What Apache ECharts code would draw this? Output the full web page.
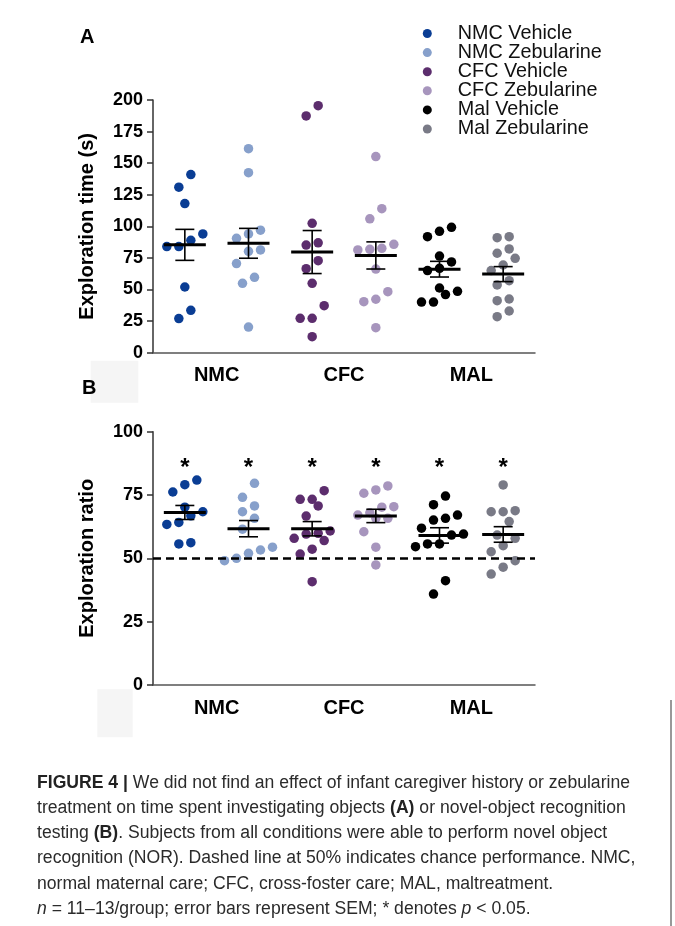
<!DOCTYPE html>
<html>
<head>
<meta charset="utf-8">
<script src="https://cdn.jsdelivr.net/npm/echarts@6/dist/echarts.min.js"></script>
<style>
  html, body { margin: 0; padding: 0; background: #fff; }
  #chart { width: 675px; height: 926px; }
</style>
</head>
<body>
<div id="chart"></div>
<script>
// groups, in plotting order
const groupNames = ['NMC Vehicle', 'NMC Zebularine', 'CFC Vehicle', 'CFC Zebularine', 'Mal Vehicle', 'Mal Zebularine'];
const groupColors = ['#0a3d94', '#87a0cb', '#5c2d6d', '#a795bd', '#000000', '#797a86'];
const careLabels = ['NMC', 'CFC', 'MAL'];

// panel A: exploration time (s)
const timeNmcVeh = [141, 131, 118, 94, 89, 84, 84, 52, 33.5, 27];
const timeNmcZeb = [161.5, 142.5, 97, 94, 90.5, 81.3, 80.2, 70.5, 59.7, 54.9, 20.3];
const timeCfcVeh = [195.5, 187.4, 102.4, 87, 85.2, 72.8, 66.5, 54.9, 37.2, 27.2, 27.2, 12.7];
const timeCfcZeb = [155.2, 114, 106, 85.8, 82.6, 81.8, 81.3, 66.2, 48.3, 42.3, 40.4, 19.8];
const timeMalVeh = [99.2, 96.1, 91.8, 76.5, 71.8, 66.8, 65, 51.2, 48.6, 46, 40.1, 40.1];
const timeMalZeb = [91.8, 91, 82.1, 78.7, 74.7, 69.4, 65, 57, 53.6, 42.5, 41.2, 33, 28.5];

// panel B: exploration ratio
const ratioNmcVeh = [80.9, 79.1, 76.2, 70.2, 68.4, 66.8, 64.2, 63.4, 56.2, 55.7];
const ratioNmcZeb = [79.6, 74.1, 70.7, 68.4, 65.8, 61.5, 54.4, 53.3, 52, 50, 49.1];
const ratioCfcVeh = [76.7, 73.3, 73.3, 70.7, 66.7, 60.8, 59.9, 59.6, 57.9, 57, 53.6, 51.7, 40.8];
const ratioCfcZeb = [78.6, 77, 75.7, 70.4, 70.2, 68, 67.1, 65.8, 65.8, 60.5, 54.4, 47.4];
const ratioMalVeh = [74.6, 71.2, 67.1, 65.8, 65.1, 61.9, 59.6, 59.2, 55.7, 55.7, 54.6, 41.2, 35.9];
const ratioMalZeb = [79, 68.8, 68.4, 68.4, 64.5, 59.2, 57.9, 55, 52.6, 49.1, 46.5, 43.8];

const timeGroups = [timeNmcVeh, timeNmcZeb, timeCfcVeh, timeCfcZeb, timeMalVeh, timeMalZeb];
const ratioGroups = [ratioNmcVeh, ratioNmcZeb, ratioCfcVeh, ratioCfcZeb, ratioMalVeh, ratioMalZeb];

// axes
const timeMax = 200, ratioMax = 100, tickStep = 25;
const chanceLevel = 50;
const significant = [true, true, true, true, true, true];
const starLevel = 85.5;

const captionLines = [
  '{b|FIGURE 4 |} We did not find an effect of infant caregiver history or zebularine',
  'treatment on time spent investigating objects {b|(A)} or novel-object recognition',
  'testing {b|(B)}. Subjects from all conditions were able to perform novel object',
  'recognition (NOR). Dashed line at 50% indicates chance performance. NMC,',
  'normal maternal care; CFC, cross-foster care; MAL, maltreatment.',
  '{i|n} = 11\u201313/group; error bars represent SEM; * denotes {i|p} < 0.05.'
];

const FONT = '"Liberation Sans", Arial, Helvetica, sans-serif';
const W = 675, H = 926;
const gridA = { left: 153, top: 100, width: 382, height: 252.7 };
const gridB = { left: 153, top: 431.7, width: 382, height: 253.3 };
const DOT = 9.5, DOT_GAP = 12, ROW_PX = 14;

function mean(a) { return a.reduce((s, v) => s + v, 0) / a.length; }
function sem(a) {
  const m = mean(a);
  const sd = Math.sqrt(a.reduce((s, v) => s + (v - m) * (v - m), 0) / (a.length - 1));
  return sd / Math.sqrt(a.length);
}

// prism-like scatter: values close together share a row and spread sideways
function swarm(g, values, pxPerUnit) {
  const sorted = values.slice().sort((a, b) => a - b);
  const out = [];
  let k = 0;
  while (k < sorted.length) {
    let j = k + 1;
    while (j < sorted.length && (sorted[j] - sorted[k]) * pxPerUnit < ROW_PX) j++;
    const row = sorted.slice(k, j);
    row.forEach((v, n) => {
      out.push({ value: [g, v], symbolOffset: [(n - (row.length - 1) / 2) * DOT_GAP, 0] });
    });
    k = j;
  }
  return out;
}

function meanSemRender(params, api) {
  const x = api.value(0), m = api.value(1), s = api.value(2);
  const c = api.coord([x, m]);
  const hi = api.coord([x, m + s]);
  const lo = api.coord([x, m - s]);
  const line = (x1, y1, x2, y2, w) => ({
    type: 'line', shape: { x1, y1, x2, y2 }, style: { stroke: '#000', lineWidth: w }
  });
  return {
    type: 'group',
    children: [
      line(c[0], hi[1], c[0], lo[1], 1.6),
      line(c[0] - 9.5, hi[1], c[0] + 9.5, hi[1], 1.6),
      line(c[0] - 9.5, lo[1], c[0] + 9.5, lo[1], 1.6),
      line(c[0] - 21, c[1], c[0] + 21, c[1], 3)
    ]
  };
}

function yAxis(grid, max, name) {
  return {
    gridIndex: grid, type: 'value', min: 0, max: max, interval: tickStep,
    name: name, nameLocation: 'middle', nameGap: 56,
    nameTextStyle: { fontFamily: FONT, fontSize: 20, fontWeight: 'bold', color: '#000' },
    axisLine: { show: true, lineStyle: { color: '#333', width: 1.5 } },
    axisTick: { show: true, length: 6, lineStyle: { color: '#333', width: 1.5 } },
    axisLabel: { fontFamily: FONT, fontSize: 18, fontWeight: 'bold', color: '#000', margin: 10 },
    splitLine: { show: false }
  };
}

function xAxes(grid) {
  return [
    {
      gridIndex: grid, type: 'category', data: groupNames, position: 'bottom',
      axisLine: { show: true, lineStyle: { color: '#555', width: 1.5 } },
      axisTick: { show: false }, axisLabel: { show: false }, splitLine: { show: false }
    },
    {
      gridIndex: grid, type: 'category', data: careLabels, position: 'bottom',
      axisLine: { show: false }, axisTick: { show: false }, splitLine: { show: false },
      axisLabel: { fontFamily: FONT, fontSize: 20, fontWeight: 'bold', color: '#000', margin: 13 }
    }
  ];
}

function panelSeries(panel, groups, pxPerUnit) {
  const list = groups.map((vals, g) => ({
    type: 'scatter', name: groupNames[g], xAxisIndex: panel * 2, yAxisIndex: panel,
    data: swarm(g, vals, pxPerUnit), symbol: 'circle', symbolSize: DOT,
    itemStyle: { color: groupColors[g], opacity: 1 }, silent: true, z: 2
  }));
  list.push({
    type: 'custom', name: 'mean', xAxisIndex: panel * 2, yAxisIndex: panel, z: 5, silent: true,
    data: groups.map((vals, g) => [g, mean(vals), sem(vals)]),
    renderItem: meanSemRender
  });
  return list;
}

const series = panelSeries(0, timeGroups, gridA.height / timeMax)
  .concat(panelSeries(1, ratioGroups, gridB.height / ratioMax));

// chance line and significance stars on panel B
series.push({
  type: 'custom', name: 'stars', xAxisIndex: 2, yAxisIndex: 1, z: 6, silent: true,
  data: significant.map((s, g) => [g, starLevel, s ? 1 : 0]),
  renderItem: (params, api) => {
    if (!api.value(2)) return;
    const p = api.coord([api.value(0), api.value(1)]);
    return {
      type: 'text', x: p[0], y: p[1],
      style: { text: '*', fill: '#000', font: 'bold 24px ' + FONT, align: 'center', verticalAlign: 'middle' }
    };
  },
  markLine: {
    silent: true, symbol: 'none', label: { show: false },
    lineStyle: { color: '#000', width: 2.5, type: [8, 5] },
    data: [{ yAxis: chanceLevel }]
  }
});

const chart = echarts.init(document.getElementById('chart'), null, { renderer: 'canvas', width: W, height: H });
chart.setOption({
  backgroundColor: '#fff',
  animation: false,
  textStyle: { fontFamily: FONT },
  grid: [gridA, gridB],
  xAxis: xAxes(0).concat(xAxes(1)),
  yAxis: [yAxis(0, timeMax, 'Exploration time (s)'), yAxis(1, ratioMax, 'Exploration ratio')],
  legend: {
    data: groupNames, orient: 'vertical', left: 422.8, top: 23.5, padding: 0,
    itemGap: -0.9, itemWidth: 9, itemHeight: 9, icon: 'circle', selectedMode: false,
    textStyle: { fontFamily: FONT, fontSize: 19.8, color: '#111', lineHeight: 19.3, padding: [0, 0, 0, 21] }
  },
  graphic: [
    { type: 'rect', left: 90.7, top: 360.7, shape: { width: 47.6, height: 42 }, style: { fill: '#f5f5f5' }, z: -1 },
    { type: 'rect', left: 97.3, top: 689.3, shape: { width: 35.4, height: 48 }, style: { fill: '#f5f5f5' }, z: -1 },
    { type: 'text', left: 80, top: 27, style: { text: 'A', font: 'bold 20px ' + FONT, fill: '#000' } },
    { type: 'text', left: 82, top: 378, style: { text: 'B', font: 'bold 20px ' + FONT, fill: '#000' } },
    { type: 'line', shape: { x1: 671, y1: 700, x2: 671, y2: H }, style: { stroke: '#777', lineWidth: 1.5 } },
    {
      type: 'text', left: 37, top: 770,
      style: {
        text: captionLines.join('\n'), fill: '#2b2b2b',
        font: '17.6px ' + FONT, lineHeight: 25.3,
        rich: {
          b: { fontFamily: FONT, fontSize: 17.6, fontWeight: 'bold', lineHeight: 25.3, fill: '#222' },
          i: { fontFamily: FONT, fontSize: 17.6, fontStyle: 'italic', lineHeight: 25.3, fill: '#2b2b2b' }
        }
      }
    }
  ],
  series: series
});
</script>
</body>
</html>
